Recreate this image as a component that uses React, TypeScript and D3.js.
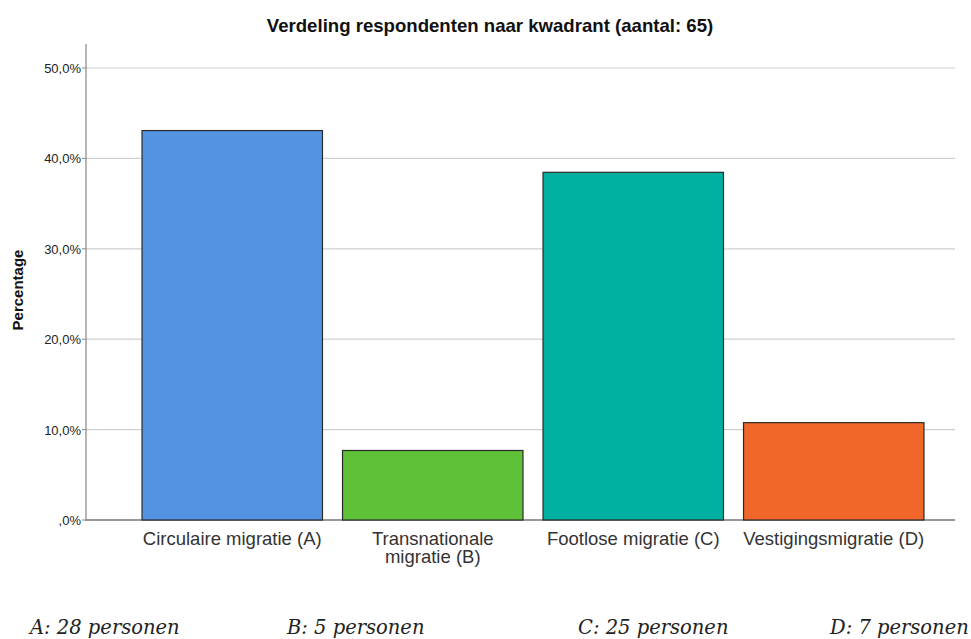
import React from "react";
import * as d3 from "d3";

const categories = ["Circulaire migratie (A)", "Transnationale migratie (B)", "Footlose migratie (C)", "Vestigingsmigratie (D)"];
const labelLines = [["Circulaire migratie (A)"], ["Transnationale", "migratie (B)"], ["Footlose migratie (C)"], ["Vestigingsmigratie (D)"]];
const percentages = [43.08, 7.69, 38.46, 10.77];
const colors = ["#5294E2", "#5EC138", "#00B0A0", "#F1662A"];
const yTicks = [0, 10, 20, 30, 40, 50];
const footnotes = ["A: 28 personen", "B: 5 personen", "C: 25 personen", "D: 7 personen"];
const footnoteX = [30, 287, 578, 830];

const W = 971;
const H = 639;

export default function App() {
  const x = d3.scaleBand<string>().domain(categories).range([132, 934]).paddingInner(0.1).paddingOuter(0.05);
  const y = d3.scaleLinear().domain([0, 50]).range([520, 68]);
  const fmt = (v: number) => (v === 0 ? ",0%" : `${v.toFixed(1).replace(".", ",")}%`);
  return (
    <svg width={W} height={H} style={{ position: "absolute", left: 0, top: 0, background: "#fff" }}>
      <text x={490} y={32} textAnchor="middle" fontFamily="Liberation Sans, Arial, sans-serif" fontWeight="bold" fontSize={18.6} fill="#111">
        Verdeling respondenten naar kwadrant (aantal: 65)
      </text>
      {yTicks.filter((t) => t > 0).map((t) => (
        <line key={t} x1={86} x2={955} y1={y(t)} y2={y(t)} stroke="#cfcfcf" strokeWidth={1.2} />
      ))}
      <line x1={86} x2={86} y1={44} y2={521} stroke="#888" strokeWidth={1.2} />
      <line x1={86} x2={955} y1={y(0)} y2={y(0)} stroke="#777" strokeWidth={1.4} />
      {yTicks.map((t) => (
        <g key={t}>
          <line x1={82} x2={86} y1={y(t)} y2={y(t)} stroke="#888" />
          <text x={81} y={y(t) + 5} textAnchor="end" fontFamily="Liberation Sans, Arial, sans-serif" fontSize={13} fill="#222">
            {fmt(t)}
          </text>
        </g>
      ))}
      <text transform={`translate(23,290) rotate(-90)`} textAnchor="middle" fontFamily="Liberation Sans, Arial, sans-serif" fontWeight="bold" fontSize={15} fill="#111">
        Percentage
      </text>
      {categories.map((c, i) => (
        <rect key={c} x={x(c)} y={y(percentages[i])} width={x.bandwidth()} height={y(0) - y(percentages[i])} fill={colors[i]} stroke="#2a2a2a" strokeWidth={1.2} />
      ))}
      {categories.map((c, i) => (
        <text key={c} textAnchor="middle" fontFamily="Liberation Sans, Arial, sans-serif" fontSize={18.5} fill="#333">
          {labelLines[i].map((l, j) => (
            <tspan key={j} x={(x(c) as number) + x.bandwidth() / 2} y={545 + j * 18}>
              {l}
            </tspan>
          ))}
        </text>
      ))}
      {footnotes.map((f, i) => (
        <text key={f} x={footnoteX[i]} y={634} fontFamily="DejaVu Serif, serif" fontStyle="italic" fontSize={19.5} fill="#222">
          {f}
        </text>
      ))}
    </svg>
  );
}
